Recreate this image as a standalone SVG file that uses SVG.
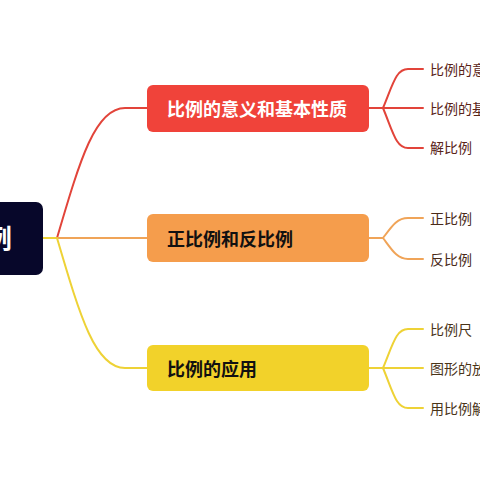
<svg xmlns="http://www.w3.org/2000/svg" width="480" height="480" viewBox="0 0 480 480">
<style>
.lbl{font-family:"Noto Sans CJK SC","Noto Sans",sans-serif;dominant-baseline:central}
.main{font-size:18px;font-weight:bold}
.sub{font-size:14px}
.c{fill:none;stroke-width:2;stroke-linecap:round}
.r{stroke:#e2443a}.o{stroke:#f0a458}.y{stroke:#eed236}
</style>
<rect width="480" height="480" fill="#ffffff"/>
<g id="connectors">
<path class="c y" d="M43,238 L57,238"/>
<path class="c r" d="M57,238 C80,160 95,108 125,108 L147,108"/>
<path class="c o" d="M57,238 L147,238"/>
<path class="c y" d="M57,238 C80,316 95,368 125,368 L147,368"/>
<path class="c r" d="M369,108 L423,108 M383,108 C393,84 396,69 408,69 L423,69 M383,108 C393,132 396,148 408,148 L423,148"/>
<path class="c o" d="M369,238 L383,238 C392,226 397,218 408,218 L423,218 M383,238 C392,250 397,259 408,259 L423,259"/>
<path class="c y" d="M369,368 L423,368 M383,368 C393,344 396,329 408,329 L423,329 M383,368 C393,392 396,408 408,408 L423,408"/>
</g>
<g id="root">
<rect x="-20" y="202" width="63" height="73" rx="7" fill="#07072a"/>
<text class="lbl" x="12" y="237" font-size="27" font-weight="bold" fill="#ffffff" text-anchor="end">比例</text>
</g>
<g id="n1">
<rect x="147" y="85" width="222" height="47" rx="6" fill="#f0433a"/>
<text class="lbl main" x="167" y="108" fill="#ffffff">比例的意义和基本性质</text>
</g>
<g id="n2">
<rect x="147" y="214" width="222" height="48" rx="6" fill="#f59d4c"/>
<text class="lbl main" x="167" y="238" fill="#111111">正比例和反比例</text>
</g>
<g id="n3">
<rect x="147" y="345" width="222" height="46" rx="6" fill="#f2d22a"/>
<text class="lbl main" x="167" y="368" fill="#111111">比例的应用</text>
</g>
<g id="n1a"><text class="lbl sub" x="430" y="69" fill="#5a2418">比例的意义</text></g>
<g id="n1b"><text class="lbl sub" x="430" y="108" fill="#5a2418">比例的基本性质</text></g>
<g id="n1c"><text class="lbl sub" x="430" y="147" fill="#5a2418">解比例</text></g>
<g id="n2a"><text class="lbl sub" x="430" y="218" fill="#4a2a18">正比例</text></g>
<g id="n2b"><text class="lbl sub" x="430" y="259" fill="#4a2a18">反比例</text></g>
<g id="n3a"><text class="lbl sub" x="430" y="329" fill="#4a3418">比例尺</text></g>
<g id="n3b"><text class="lbl sub" x="430" y="368" fill="#4a3418">图形的放大与缩小</text></g>
<g id="n3c"><text class="lbl sub" x="430" y="408" fill="#4a3418">用比例解决问题</text></g>
</svg>
